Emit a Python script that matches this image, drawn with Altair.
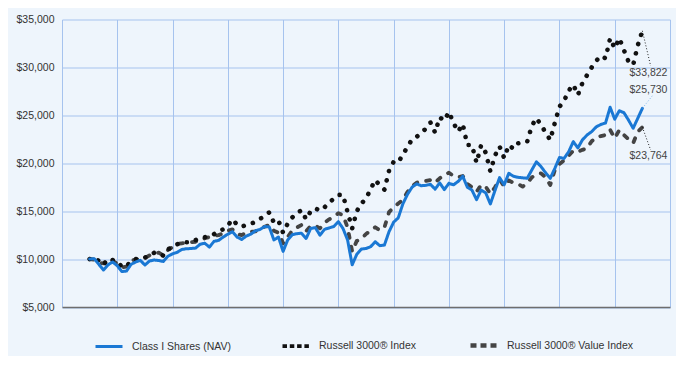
import altair as alt
import pandas as pd

FONT = "Liberation Sans"
BG = "#EEF5FC"
GRID = "#A6C3EE"
BLUE = "#1A78D4"

series_names = ["Class I Shares (NAV)", "Russell 3000® Index", "Russell 3000® Value Index"]
year_labels = ["6/15", "6/16", "6/17", "6/18", "6/19", "6/20", "6/21", "6/22", "6/23", "6/24", "6/25"]
months = list(range(121))  # 6/15 .. 6/25 monthly

class_i = [
    10000, 10040, 9450, 8860, 9400, 9700, 9300, 8700, 8750, 9450,
    9700, 9870, 9380, 9800, 9900, 9850, 9750, 10300, 10550, 10700,
    11000, 11080, 11100, 11150, 11550, 11650, 11250, 11850, 11950, 12300,
    12600, 12850, 12300, 12050, 12400, 12600, 12950, 13100, 13400, 13350,
    12000, 12300, 10800, 12000, 12550, 12650, 12700, 12150, 13200, 13280,
    12500, 13100, 13250, 13400, 13900, 13200, 12000, 9400, 10500, 11050,
    11100, 11290, 11810, 11400, 11470, 12860, 13850, 14300, 15750, 16750,
    17500, 17850, 17650, 17700, 17800, 17300, 17950, 17250, 17900, 17750,
    18100, 18650, 17500, 17200, 16200, 17200, 16900, 15750, 17150, 18500,
    17750, 18950, 18650, 18530, 18480, 18430, 19300, 20150, 19650, 19000,
    18430, 19470, 20600, 20500, 21200, 22250, 21600, 22450, 22950, 23300,
    23800, 24050, 24200, 25840, 24600, 25480, 25270, 24500, 23650, 24690,
    25730]

r3000 = [
    10000, 10150, 9800, 9380, 10000, 9900, 9700, 9210, 9220, 9830,
    10000, 10080, 10150, 10430, 10650, 10600, 10350, 11000, 11300, 11550,
    11720, 11750, 11750, 11990, 12150, 12270, 12450, 12600, 12950, 13100,
    13500, 14150, 13600, 13380, 13560, 13700, 13870, 14200, 14500, 14880,
    13800, 14010, 12750, 13700, 14350, 14800, 15100, 14150, 15000, 15300,
    15050, 15400, 15900, 16300, 16700, 16700, 14900, 13200, 15000, 15800,
    16300, 17300, 18250, 17700, 17250, 19220, 20150, 20100, 20900, 21700,
    22500, 22750, 23200, 23600, 24250, 23200, 24800, 24450, 25350, 24200,
    23300, 24100, 21900, 21900, 20050, 21900, 21100, 19150, 20800, 21750,
    20550, 21900, 21500, 22080, 22150, 22250, 23900, 24700, 24000, 23200,
    22430, 24230, 25900, 26500, 27570, 28200, 27120, 28400, 29200, 30000,
    30700, 31200, 30950, 33040, 31990, 33040, 31800, 30600, 30250, 32300,
    33822]

r3000v = [
    10000, 9950, 9620, 9550, 10000, 9830, 9500, 9140, 9210, 9830,
    9950, 9980, 10100, 10390, 10550, 10670, 10390, 10950, 11250, 11570,
    11650, 11710, 11760, 11810, 12000, 12170, 12300, 12410, 12500, 12700,
    12960, 13100, 12600, 12500, 12750, 12860, 12900, 13200, 13380, 13560,
    12960, 12750, 11650, 12300, 13000, 13300, 13560, 12900, 13450, 13500,
    13200, 13800, 14150, 14400, 14780, 14600, 13300, 10800, 11900, 12100,
    12620, 12950, 13320, 13000, 13300, 14900, 15400, 15800, 16170, 17000,
    17600, 17970, 18100, 18150, 18250, 17970, 18430, 18780, 19010, 18670,
    18530, 18670, 17840, 17490, 17030, 17730, 17560, 16800, 17500, 18300,
    17600, 18200, 17970, 17840, 17560, 17900, 18530, 18800, 18950, 18530,
    17730, 19300, 19920, 20300, 20800, 21310, 21200, 21400, 21560, 22300,
    22700, 22840, 22950, 23500, 22600, 23470, 22950, 22500, 22100, 23290,
    23764]

assert len(class_i) == len(r3000) == len(r3000v) == 121

rows = []
for name, vals in zip(series_names, [class_i, r3000, r3000v]):
    for t, v in zip(months, vals):
        rows.append({"series": name, "t": t, "v": v})
df = pd.DataFrame(rows)

x_scale = alt.Scale(domain=[-6, 126], nice=False, zero=False)
y_scale = alt.Scale(domain=[5000, 35000], nice=False, zero=False)

label_js = "[" + ",".join("'" + s + "'" for s in year_labels) + "]"
x_axis = alt.Axis(
    values=list(range(-6, 127, 6)),
    labelExpr=f"datum.value % 12 === 0 ? {label_js}[datum.value / 12] : ''",
    ticks=False, grid=True, gridColor=GRID, gridWidth=1,
    gridOpacity={"condition": {"test": "(datum.value + 6) % 12 !== 0", "value": 0}, "value": 1},
    domainColor="#6E6E6E", domainWidth=1.5, labelPadding=10, labelOverlap=False,
    labelFlush=False, title=None,
)
y_axis = alt.Axis(
    values=list(range(5000, 35001, 5000)), format="$,.0f", ticks=False, domain=False,
    grid=True, gridColor=GRID, gridWidth=1, labelPadding=8, title=None,
)

X = alt.X("t:Q", scale=x_scale, axis=x_axis)
Y = alt.Y("v:Q", scale=y_scale, axis=y_axis)

# per-series line styles (drawn value -> russell -> class I)
line_color = {series_names[0]: BLUE, series_names[1]: "#111111", series_names[2]: "#444444"}
line_dash = {series_names[0]: [1, 0], series_names[1]: [0.1, 9.5], series_names[2]: [4, 9]}
line_width = {series_names[0]: 3, series_names[1]: 4.6, series_names[2]: 3.8}

layers = []
for name in [series_names[2], series_names[1], series_names[0]]:
    layers.append(
        alt.Chart(df).transform_filter(alt.datum.series == name).mark_line(
            color=line_color[name], strokeDash=line_dash[name], strokeWidth=line_width[name],
            strokeCap="round", strokeJoin="round",
        ).encode(x=X, y=Y)
    )

# legend (scales only; no marks drawn)
legend = alt.Legend(
    title=None, orient="none", legendX=31, legendY=310, direction="horizontal",
    columns=3, columnPadding=44, symbolType="stroke", symbolSize=729, labelOffset=7,
    labelFontSize=10.5, labelFont=FONT, labelColor="#333333", padding=0, labelLimit=300,
)
layers.append(
    alt.Chart(df).transform_filter("false").mark_line().encode(
        x=X, y=Y,
        color=alt.Color("series:N", scale=alt.Scale(domain=series_names, range=[BLUE, "#111111", "#444444"]), legend=legend),
        strokeDash=alt.StrokeDash("series:N", scale=alt.Scale(domain=series_names, range=[[1, 0], [4.5, 2.8], [6, 4]]), legend=legend),
        strokeWidth=alt.StrokeWidth("series:N", scale=alt.Scale(domain=series_names, range=[3, 4.5, 4]), legend=legend),
    )
)

# end-value callouts
end_vals = [class_i[-1], r3000[-1], r3000v[-1]]
leader_colors = ["#7DB5EC", "#222222", "#222222"]
leader_t2 = [122.3, 121.8, 121.8]
leader_v2 = [27120, 30150, 21380]
label_t = 125.45
label_v = [27620, 29450, 20740]

for i in range(3):
    ldf = pd.DataFrame({"t": [months[-1]], "v": [end_vals[i]], "t2": [leader_t2[i]], "v2": [leader_v2[i]]})
    layers.append(
        alt.Chart(ldf).mark_rule(color=leader_colors[i], strokeDash=[1, 2], strokeWidth=1).encode(
            x=alt.X("t:Q", scale=x_scale), y=alt.Y("v:Q", scale=y_scale), x2="t2:Q", y2="v2:Q"
        )
    )

tdf = pd.DataFrame({"t": [label_t] * 3, "v": label_v, "label": [f"${v:,}" for v in end_vals]})
layers.append(
    alt.Chart(tdf).mark_text(align="right", baseline="middle", font=FONT, fontSize=10.5, color="#444444").encode(
        x=alt.X("t:Q", scale=x_scale), y=alt.Y("v:Q", scale=y_scale), text="label:N"
    )
)

chart = alt.layer(*layers).properties(
    width=608, height=287.5, background=BG,
    padding={"left": 54, "top": 11.5, "right": 6, "bottom": 49},
    autosize=alt.AutoSizeParams(type="none"),
).configure_view(stroke=None).configure_axis(
    labelFont=FONT, labelFontSize=10.5, labelColor="#333333"
)

chart.save("out.html", embed_options={"renderer": "svg", "actions": False})
